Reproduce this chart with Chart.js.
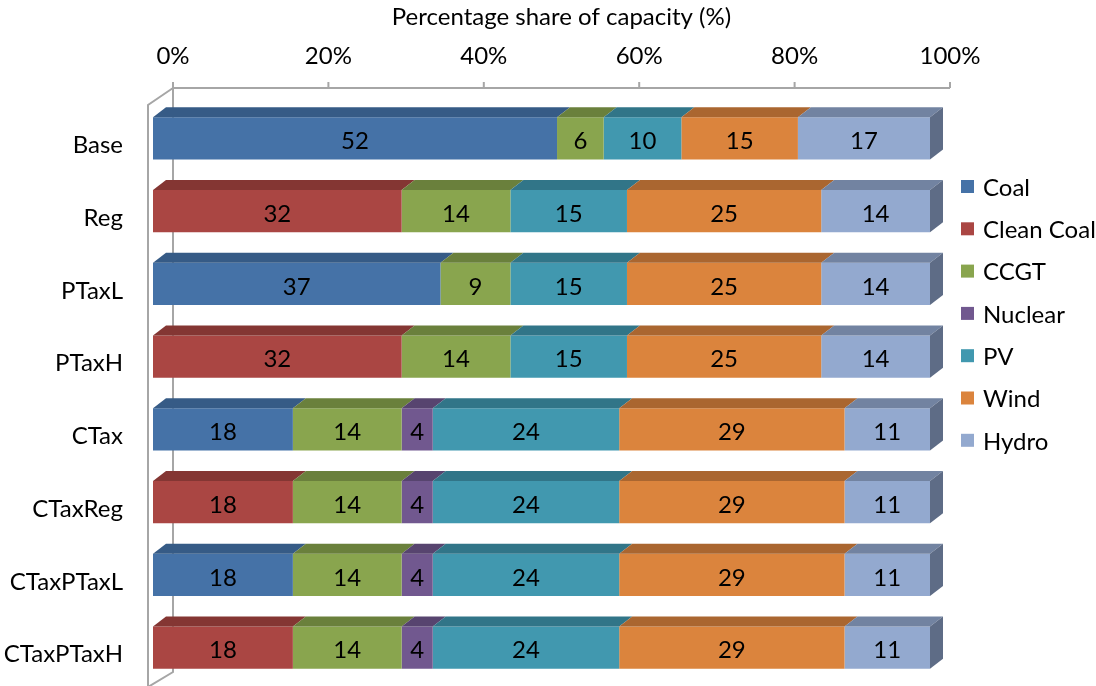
<!DOCTYPE html>
<html>
<head>
<meta charset="utf-8">
<script src="https://cdn.jsdelivr.net/npm/chart.js@4"></script>
<style>
  html, body { margin: 0; padding: 0; background: #fff; }
  #wrap { width: 1096px; height: 686px; }
</style>
</head>
<body>
<div id="wrap"><canvas id="capacityChart" width="1096" height="686"></canvas></div>
<script>
const scenarios = ["Base", "Reg", "PTaxL", "PTaxH", "CTax", "CTaxReg", "CTaxPTaxL", "CTaxPTaxH"];
const coal      = [52, null, 37, null, 18, null, 18, null];
const cleanCoal = [null, 32, null, 32, null, 18, null, 18];
const ccgt      = [6, 14, 9, 14, 14, 14, 14, 14];
const nuclear   = [null, null, null, null, 4, 4, 4, 4];
const pv        = [10, 15, 15, 15, 24, 24, 24, 24];
const wind      = [15, 25, 25, 25, 29, 29, 29, 29];
const hydro     = [17, 14, 14, 14, 11, 11, 11, 11];
const xTicks    = [0, 20, 40, 60, 80, 100];

const TEXT = "#000";
const FONT = { family: "Lato", size: 24 };

// front / top / side shades per series (Excel 2007 3-D look)
const shades = {
    "Coal":       ["#4572A7", "#365B86", "#2F4F75"],
    "Clean Coal": ["#AA4643", "#843633", "#6E2D2B"],
    "CCGT":       ["#89A54E", "#6A803C", "#586B32"],
    "Nuclear":    ["#71588F", "#57446F", "#48385C"],
    "PV":         ["#4198AF", "#317588", "#296171"],
    "Wind":       ["#DB843D", "#AA6630", "#8D5428"],
    "Hydro":      ["#93A9CF", "#7283A1", "#5E6C86"]
};

const DEPTH_X = 13, DEPTH_Y = 10, SHIFT_X = -20;

function series(label, data) {
    return { label: label, data: data, backgroundColor: shades[label][0], borderWidth: 0, clip: false };
}

// walls + 3-D faces + value labels
const bar3d = {
    id: "bar3d",
    beforeDatasetsDraw(chart) {
        let ctx = chart.ctx, a = chart.chartArea, x = chart.scales.x;
        let x0 = x.getPixelForValue(0), x1 = x.getPixelForValue(100);
        let axisY = a.top - 14;
        ctx.save();
        ctx.strokeStyle = "#a6a6a6";
        ctx.lineWidth = 2;
        ctx.beginPath();
        ctx.moveTo(x0, axisY);
        ctx.lineTo(x1, axisY);
        xTicks.forEach(v => {
            let px = x.getPixelForValue(v);
            ctx.moveTo(px, axisY - 6);
            ctx.lineTo(px, axisY);
        });
        ctx.moveTo(x0, axisY);
        ctx.lineTo(x0, a.bottom - 12);
        ctx.lineTo(x0 - 25, a.bottom + 3);
        ctx.moveTo(x0, axisY);
        ctx.lineTo(x0 - 25, axisY + 17);
        ctx.lineTo(x0 - 25, chart.height);
        ctx.stroke();
        ctx.restore();

        ctx.save();
        ctx.translate(SHIFT_X, 0);
    },
    afterDatasetsDraw(chart) {
        let ctx = chart.ctx;
        let sets = chart.data.datasets;

        scenarios.forEach((name, i) => {
            let last = null;
            sets.forEach((ds, d) => {
                if (ds.data[i] == null) return;
                let bar = chart.getDatasetMeta(d).data[i];
                let p = bar.getProps(["x", "y", "base", "height"], true);
                let top = p.y - p.height / 2;
                ctx.fillStyle = shades[ds.label][1];
                ctx.beginPath();
                ctx.moveTo(p.base, top);
                ctx.lineTo(p.base + DEPTH_X, top - DEPTH_Y);
                ctx.lineTo(p.x + DEPTH_X, top - DEPTH_Y);
                ctx.lineTo(p.x, top);
                ctx.closePath();
                ctx.fill();
                last = { p: p, label: ds.label };
            });
            if (last) {
                let p = last.p, top = p.y - p.height / 2, bottom = p.y + p.height / 2;
                ctx.fillStyle = shades[last.label][2];
                ctx.beginPath();
                ctx.moveTo(p.x, top);
                ctx.lineTo(p.x + DEPTH_X, top - DEPTH_Y);
                ctx.lineTo(p.x + DEPTH_X, bottom - DEPTH_Y);
                ctx.lineTo(p.x, bottom);
                ctx.closePath();
                ctx.fill();
            }
        });

        ctx.fillStyle = TEXT;
        ctx.font = FONT.size + "px " + FONT.family;
        ctx.textAlign = "center";
        ctx.textBaseline = "middle";
        sets.forEach((ds, d) => {
            chart.getDatasetMeta(d).data.forEach((bar, i) => {
                if (ds.data[i] == null) return;
                let p = bar.getProps(["x", "y", "base"], true);
                ctx.fillText(ds.data[i], (p.x + p.base) / 2, p.y + 3);
            });
        });
        ctx.restore();
    },
    afterDraw(chart) {
        // legend on the right
        let ctx = chart.ctx, a = chart.chartArea;
        ctx.save();
        ctx.font = FONT.size + "px " + FONT.family;
        ctx.textBaseline = "middle";
        ctx.textAlign = "left";
        chart.data.datasets.forEach((ds, d) => {
            let cy = a.top + 85 + d * 42.3;
            ctx.fillStyle = ds.backgroundColor;
            ctx.fillRect(a.right + 11, cy - 7, 13, 13);
            ctx.fillStyle = TEXT;
            ctx.fillText(ds.label, a.right + 33, cy + 1);
        });
        ctx.restore();
    }
};

let capacityChart = new Chart(document.getElementById("capacityChart"), {
    type: "bar",
    data: {
        labels: scenarios,
        datasets: [
            series("Coal", coal),
            series("Clean Coal", cleanCoal),
            series("CCGT", ccgt),
            series("Nuclear", nuclear),
            series("PV", pv),
            series("Wind", wind),
            series("Hydro", hydro)
        ]
    },
    options: {
        responsive: false,
        animation: false,
        indexAxis: "y",
        barPercentage: 0.58,
        categoryPercentage: 1,
        layout: { padding: { left: 0, right: 146, top: 0, bottom: 2 } },
        plugins: {
            legend: { display: false },
            tooltip: { enabled: false }
        },
        scales: {
            x: {
                position: "top",
                stacked: true,
                min: 0,
                max: 100,
                grid: { display: false, drawTicks: false },
                border: { display: false },
                afterFit: s => { s.height = 102; s.paddingLeft = 0; s.paddingRight = 0; },
                afterBuildTicks: s => { s.ticks = xTicks.map(v => ({ value: v })); },
                ticks: { padding: 31, maxRotation: 0, color: TEXT, font: FONT, callback: v => v + "%" },
                title: {
                    display: true,
                    text: "Percentage share of capacity (%)",
                    padding: { top: 3, bottom: 0 },
                    color: TEXT,
                    font: FONT
                }
            },
            y: {
                stacked: true,
                grid: { display: false, drawTicks: false },
                border: { display: false },
                afterFit: s => { s.width = 173; s.paddingTop = 0; s.paddingBottom = 0; },
                ticks: { padding: 50, labelOffset: 7, color: TEXT, font: FONT }
            }
        }
    },
    plugins: [bar3d]
});
</script>
</body>
</html>
